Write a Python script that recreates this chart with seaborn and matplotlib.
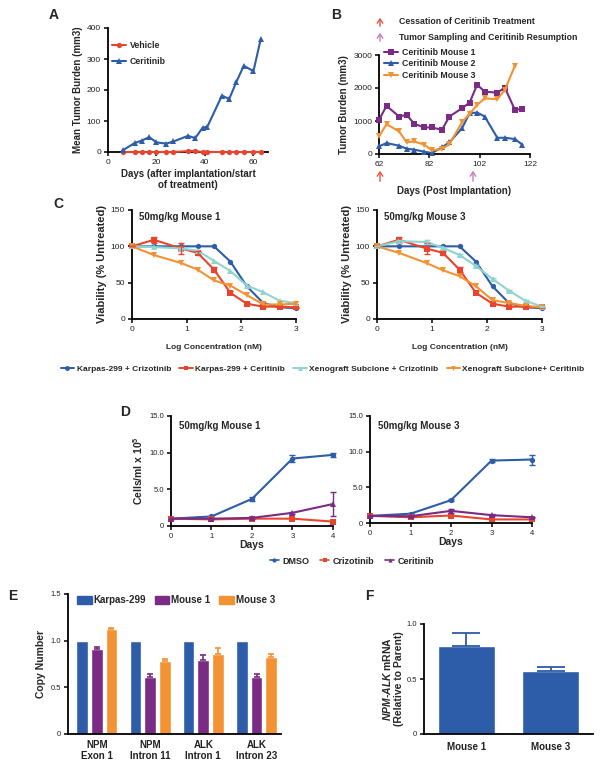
import numpy as np
import pandas as pd
import matplotlib
matplotlib.use("Agg")
import matplotlib.pyplot as plt
from matplotlib.lines import Line2D
from matplotlib.patches import Patch
import seaborn as sns

# ---- A: mean tumour burden
days_a = [6, 11, 14, 17, 20, 24, 27, 33, 36, 39, 41, 47, 50, 53, 56, 60, 63]
vehicle_a = [0, 0, 0, 0, 0, 0, 0, 3, 3, 0, 0, 0, 0, 0, 0, 0, 0]
ceritinib_a = [5, 29, 37, 48, 31, 27, 34, 52, 45, 78, 82, 182, 171, 227, 278, 261, 364]

# ---- B: individual mice
days_b = [62, 65, 70, 73, 76, 80, 83, 87, 90, 95, 98, 101, 104, 109, 112, 116, 119]
mouse1_b = [1035, 1457, 1136, 1186, 915, 804, 804, 734, 1136, 1387, 1558, 2100, 1889, 1859, 2010, 1337, 1367]
mouse2_b = [231, 332, 251, 161, 131, 70, 30, 201, 352, 784, 1236, 1256, 1136, 492, 492, 452, 281]
mouse3_b = [533, 905, 683, 352, 382, 281, 111, 151, 302, 965, 1216, 1487, 1688, 1658, 1940, 2673]

# ---- C: viability
log_conc = [0, 0.4, 0.9, 1.2, 1.5, 1.8, 2.1, 2.4, 2.7, 3.0]
karpas_criz = [100, 100, 100, 100, 100, 79, 45, 22, 16, 15]
karpas_cer = [100, 109, 97, 91, 68, 36, 21, 17, 17, 16]
karpas_cer_err = [0, 4, 8, 3, 3, 2, 1, 1, 1, 1]
m1_xeno_criz = [100, 99, 97, 94, 80, 66, 46, 37, 25, 22]
m1_xeno_cer = [100, 88, 77, 68, 53, 46, 33, 20, 20, 21]
m3_xeno_criz = [100, 107, 106, 98, 88, 73, 55, 39, 25, 17]
m3_xeno_criz_err = [0, 2, 3, 1, 1, 1, 1, 1, 1, 1]
m3_xeno_cer = [100, 91, 77, 67, 59, 45, 26, 22, 18, 16]

# ---- D: growth
days_d = [0, 1, 2, 3, 4]
m1_dmso = [1.0, 1.3, 3.7, 9.2, 9.7]
m1_dmso_err = [0.05, 0.1, 0.3, 0.5, 0.3]
m1_criz = [1.0, 0.9, 1.0, 1.0, 0.6]
m1_cer = [1.0, 1.0, 1.1, 1.8, 3.0]
m1_cer_err = [0, 0, 0.1, 0.1, 1.6]
m3_dmso = [1.0, 1.3, 3.2, 8.75, 8.9]
m3_dmso_err = [0, 0.1, 0.15, 0.25, 0.7]
m3_criz = [1.0, 0.8, 1.05, 0.5, 0.5]
m3_cer = [1.0, 0.95, 1.7, 1.1, 0.8]
m3_cer_err = [0, 0.1, 0.3, 0.15, 0.1]

# ---- E: copy number
targets = ["NPM\nExon 1", "NPM\nIntron 11", "ALK\nIntron 1", "ALK\nIntron 23"]
samples_e = ["Karpas-299", "Mouse 1", "Mouse 3"]
karpas_cn = [1.0, 1.0, 1.0, 1.0]
mouse1_cn = [0.91, 0.61, 0.79, 0.61]
mouse1_err = [0.02, 0.03, 0.06, 0.03]
mouse3_cn = [1.125, 0.78, 0.86, 0.82]
mouse3_err = [0.01, 0.02, 0.06, 0.04]

# ---- F: mRNA
samples_f = ["Mouse 1", "Mouse 3"]
mrna = [0.80, 0.57]
mrna_err = [0.12, 0.035]

BLUE = "#2d5ca8"
RED = "#e8452e"
PURPLE = "#7a2b83"
ORANGE = "#f39233"
TEAL = "#8fd4d0"

sns.set_style("ticks")
plt.rcParams["font.family"] = ["Liberation Sans", "DejaVu Sans"]
plt.rcParams["mathtext.fontset"] = "custom"
plt.rcParams["mathtext.rm"] = "Liberation Sans:bold"
plt.rcParams["mathtext.it"] = "Liberation Sans:italic:bold"
plt.rcParams["mathtext.bf"] = "Liberation Sans:bold"

W, H = 602, 769
fig = plt.figure(figsize=(W / 100, H / 100), dpi=100)


def rect(l, t, r, b):
    return [l / W, 1 - b / H, (r - l) / W, (b - t) / H]


def style(ax, tsize=6):
    sns.despine(ax=ax)
    for s in ("left", "bottom"):
        ax.spines[s].set_linewidth(1.3)
        ax.spines[s].set_color("black")
    ax.tick_params(width=1.1, length=3, labelsize=tsize, pad=2, colors="black",
                   labelcolor="#222222")


def line(ax, x, y, color, marker, label, ms=3.8):
    sns.lineplot(x=x, y=y, ax=ax, color=color, marker=marker, markersize=ms,
                 markeredgewidth=0, linewidth=1.5, label=label, clip_on=False, zorder=3)


def errs(ax, x, y, e, color):
    ax.errorbar(x, y, yerr=e, fmt="none", ecolor=color, elinewidth=1, capsize=2, capthick=1,
                clip_on=False, zorder=3)


def drop_legend(ax):
    if ax.get_legend() is not None:
        ax.get_legend().remove()


letters = {"A": (54, 15), "B": (336, 15), "C": (58, 204), "D": (125, 412), "E": (13, 596), "F": (369, 596)}
for k, (px, py) in letters.items():
    fig.text(px / W, 1 - py / H, k, fontsize=10, fontweight="bold", ha="center", va="center")

# ---------------- A
axA = fig.add_axes(rect(108, 28, 268, 152))
line(axA, days_a, vehicle_a, RED, "o", "Vehicle")
line(axA, days_a, ceritinib_a, BLUE, "^", "Ceritinib")
axA.set_xlim(0, 66)
axA.set_ylim(0, 400)
axA.set_xticks([0, 20, 40, 60])
axA.set_yticks([0, 100, 200, 300, 400])
axA.set_xlabel("Days (after implantation/start\nof treatment)", fontsize=7, fontweight="bold", labelpad=2)
axA.set_ylabel("Mean Tumor Burden (mm3)", fontsize=7, fontweight="bold", labelpad=3)
style(axA)
h, l = axA.get_legend_handles_labels()
axA.legend(h, l, loc="upper left", bbox_to_anchor=(112 / W, 1 - 41 / H), bbox_transform=fig.transFigure,
           frameon=False, prop=dict(size=6.3, weight="bold"), handlelength=1.6,
           handletextpad=0.4, borderpad=0, borderaxespad=0, labelspacing=0.8)

# ---------------- B
axB = fig.add_axes(rect(379, 55, 530, 154))
line(axB, days_b, mouse1_b, PURPLE, "s", "Ceritinib Mouse 1")
line(axB, days_b, mouse2_b, BLUE, "^", "Ceritinib Mouse 2")
line(axB, days_b[:len(mouse3_b)], mouse3_b, ORANGE, "v", "Ceritinib Mouse 3")
axB.set_xlim(62, 122)
axB.set_ylim(0, 3000)
axB.set_xticks([62, 82, 102, 122])
axB.set_yticks([0, 1000, 2000, 3000])
axB.set_xlabel("Days (Post Implantation)", fontsize=7, fontweight="bold", labelpad=13)
axB.set_ylabel("Tumor Burden (mm3)", fontsize=7, fontweight="bold", labelpad=3)
style(axB)
h, l = axB.get_legend_handles_labels()
axB.legend(h, l, loc="upper left", bbox_to_anchor=(384 / W, 1 - 48 / H), bbox_transform=fig.transFigure,
           frameon=False, prop=dict(size=6.3, weight="bold"), handlelength=1.6,
           handletextpad=0.5, borderpad=0, borderaxespad=0, labelspacing=0.28)
for yy, c, txt in [(22, "#e8553a", "Cessation of Ceritinib Treatment"),
                   (37, "#c77dbd", "Tumor Sampling and Ceritinib Resumption")]:
    fig.add_artist(matplotlib.patches.FancyArrowPatch((380 / W, 1 - (yy + 7) / H), (380 / W, 1 - (yy - 7) / H),
                   transform=fig.transFigure, arrowstyle="->,head_length=3,head_width=2", color=c, lw=1))
    fig.text(399 / W, 1 - yy / H, txt, fontsize=6.3, fontweight="bold", va="center")
for xx, c in [(380, "#e8553a"), (473, "#c77dbd")]:
    fig.add_artist(matplotlib.patches.FancyArrowPatch((xx / W, 1 - 184 / H), (xx / W, 1 - 168 / H),
                   transform=fig.transFigure, arrowstyle="->,head_length=3,head_width=2", color=c, lw=1))

# ---------------- C
c_series = [
    ("Karpas-299 + Crizotinib", BLUE, "o"),
    ("Karpas-299 + Ceritinib", RED, "s"),
    ("Xenograft Subclone + Crizotinib", TEAL, "^"),
    ("Xenograft Subclone+ Ceritinib", ORANGE, "v"),
]
for (l_, r_), title, xc, xce in [((132, 296), "50mg/kg Mouse 1", m1_xeno_criz, m1_xeno_cer),
                                   ((377, 542), "50mg/kg Mouse 3", m3_xeno_criz, m3_xeno_cer)]:
    ax = fig.add_axes(rect(l_, 210, r_, 319))
    vals = [karpas_criz, karpas_cer, xc, xce]
    for (lab, col, mk), v in zip(c_series, vals):
        line(ax, log_conc, v, col, mk, lab)
    errs(ax, log_conc, karpas_cer, karpas_cer_err, RED)
    if title.endswith("3"):
        errs(ax, log_conc, m3_xeno_criz, m3_xeno_criz_err, TEAL)
    drop_legend(ax)
    ax.set_xlim(0, 3)
    ax.set_ylim(0, 150)
    ax.set_xticks([0, 1, 2, 3])
    ax.set_yticks([0, 50, 100, 150])
    ax.set_xlabel("Log Concentration (nM)", fontsize=6, fontweight="bold", labelpad=8)
    ax.set_ylabel("Viability (% Untreated)", fontsize=8, fontweight="bold", labelpad=3)
    ax.text(0.04, 0.94, title, transform=ax.transAxes, fontsize=7, fontweight="bold", va="center")
    style(ax)
    handles_c = [Line2D([], [], color=col, marker=mk, markersize=3.5, markeredgewidth=0, lw=1.4)
                 for _, col, mk in c_series]
fig.legend(handles_c, [s[0] for s in c_series], loc="center", bbox_to_anchor=(0.536, 1 - 369 / H),
           ncol=4, frameon=False, prop=dict(size=6, weight="bold"), handlelength=1.6,
           handletextpad=0.3, columnspacing=1.0, borderpad=0)

# ---------------- D
d_series = [("DMSO", BLUE, "o"), ("Crizotinib", RED, "s"), ("Ceritinib", PURPLE, "^")]
for (l_, r_, b_), title, vals, ev in [
        ((171, 333, 526), "50mg/kg Mouse 1", [m1_dmso, m1_criz, m1_cer], [m1_dmso_err, None, m1_cer_err]),
        ((370, 532, 523), "50mg/kg Mouse 3", [m3_dmso, m3_criz, m3_cer], [m3_dmso_err, None, m3_cer_err])]:
    ax = fig.add_axes(rect(l_, 416, r_, b_))
    for (lab, col, mk), v, e in zip(d_series, vals, ev):
        line(ax, days_d, v, col, mk, lab)
        if e is not None:
            errs(ax, days_d, v, e, col)
    drop_legend(ax)
    ax.set_xlim(0, 4)
    ax.set_ylim(0, 15)
    ax.set_xticks(days_d)
    ax.set_yticks([0, 5, 10, 15])
    ax.set_yticklabels(["0", "5.0", "10.0", "15.0"])
    ax.set_xlabel("Days", fontsize=7.5, fontweight="bold", labelpad=0)
    if title.endswith("1"):
        ax.set_ylabel("Cells/ml x 10$^{5}$", fontsize=7.5, fontweight="bold", labelpad=3)
    ax.text(0.05, 0.91, title, transform=ax.transAxes, fontsize=7, fontweight="bold", va="center")
    style(ax, tsize=5.5)
handles_d = [Line2D([], [], color=col, marker=mk, markersize=3, markeredgewidth=0, lw=1.2)
             for _, col, mk in d_series]
fig.legend(handles_d, [s[0] for s in d_series], loc="center", bbox_to_anchor=(352 / W, 1 - 561 / H),
           ncol=3, frameon=False, prop=dict(size=6.5, weight="bold"), handlelength=1.0,
           handletextpad=0.4, columnspacing=1.2, borderpad=0)

# ---------------- E
colors_e = [BLUE, PURPLE, ORANGE]
df_e = pd.DataFrame({
    "target": targets * 3,
    "sample": np.repeat(samples_e, len(targets)),
    "value": karpas_cn + mouse1_cn + mouse3_cn,
})
axE = fig.add_axes(rect(68, 594, 281, 734))
sns.barplot(data=df_e, x="target", y="value", hue="sample", palette=colors_e, saturation=1,
            width=0.825, gap=0.2, errorbar=None, ax=axE)
for cont, vals, e, col in zip(axE.containers, [karpas_cn, mouse1_cn, mouse3_cn],
                              [None, mouse1_err, mouse3_err], colors_e):
    if e is None:
        continue
    xs = [p.get_x() + p.get_width() / 2 for p in cont]
    axE.errorbar(xs, vals, yerr=[np.zeros(len(e)), e], fmt="none", ecolor=col, elinewidth=1.2,
                 capsize=2.5, capthick=1.2)
drop_legend(axE)
axE.set_xlim(-0.54, 3.46)
axE.set_ylim(0, 1.5)
axE.set_yticks([0, 0.5, 1.0, 1.5])
axE.set_yticklabels(["0", "0.5", "1.0", "1.5"])
axE.set_xlabel("")
axE.set_ylabel("Copy Number", fontsize=7.5, fontweight="bold", labelpad=3)
style(axE, tsize=5.5)
axE.tick_params(axis="x", length=0, labelsize=7, pad=4)
for t in axE.get_xticklabels():
    t.set_fontweight("bold")
axE.legend([Patch(color=c) for c in colors_e], samples_e, loc="upper left",
           bbox_to_anchor=(77 / W, 1 - 595 / H), bbox_transform=fig.transFigure, ncol=3,
           frameon=False, prop=dict(size=7, weight="bold"), handlelength=1.5, handleheight=0.85,
           handletextpad=0.2, columnspacing=0.9, borderpad=0, borderaxespad=0)

# ---------------- F
axF = fig.add_axes(rect(424, 624, 593, 734))
sns.barplot(x=samples_f, y=mrna, color=BLUE, saturation=1, width=0.675, errorbar=None, ax=axF)
xs = [p.get_x() + p.get_width() / 2 for p in axF.containers[0]]
axF.errorbar(xs, mrna, yerr=[np.zeros(len(mrna_err)), mrna_err], fmt="none", ecolor=BLUE,
             elinewidth=1.3, capsize=10, capthick=1.3)
axF.set_xlim(-0.5, 1.5)
axF.set_ylim(0, 1.0)
axF.set_yticks([0, 0.5, 1.0])
axF.set_yticklabels(["0", "0.5", "1.0"])
axF.set_ylabel("$\\mathit{NPM}$-$\\mathit{ALK}$ mRNA\n(Relative to Parent)", fontsize=7.5,
               fontweight="bold", labelpad=2, linespacing=1.05)
style(axF, tsize=5.5)
axF.tick_params(axis="x", length=0, labelsize=7, pad=6)
for t in axF.get_xticklabels():
    t.set_fontweight("bold")

fig.savefig("out.png", dpi=100)
